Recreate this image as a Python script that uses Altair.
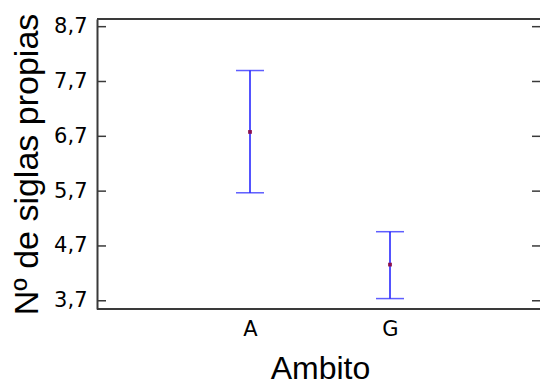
import altair as alt
import pandas as pd

ambito = ["A", "G"]
media = [6.78, 4.36]
inferior = [5.67, 3.74]
superior = [7.90, 4.96]
y_ticks = [3.7, 4.7, 5.7, 6.7, 7.7, 8.7]

df = pd.DataFrame({"Ambito": ambito, "media": media, "inf": inferior, "sup": superior})
tdf = pd.DataFrame({"t": y_ticks})

W, H = 443, 290
FONT = "Liberation Sans"
LFONT = "DejaVu Sans"
frame = "#3a3a3a"

xscale = alt.Scale(type="point", range=[153, 293], padding=0)
yscale = alt.Scale(domain=[3.55, 8.84], nice=False, zero=False)

xenc = alt.X("Ambito:N", scale=xscale, sort=ambito,
             axis=alt.Axis(title="Ambito", ticks=False, domain=False, labelAngle=0,
                           labelPadding=9, labelBaseline="top",
                           titleFontSize=32, titleBaseline="alphabetic", titleY=69,
                           titleX=W / 2 + 1.5, grid=False))

yaxis = alt.Axis(title="Nº de siglas propias", values=y_ticks, ticks=False, domain=True,
                 domainColor=frame, domainWidth=2, grid=False, labelPadding=10,
                 labelExpr="replace(format(datum.value, '.1f'), '.', ',')",
                 titleFontSize=34, titleBaseline="alphabetic", titleX=-60, titleY=145,
                 titleAngle=270)

base = alt.Chart(df)

rule = base.mark_rule(color="#1a1aff", strokeWidth=1.5).encode(
    x=xenc, y=alt.Y("inf:Q", scale=yscale, axis=yaxis), y2="sup:Q")
cap_hi = base.mark_tick(color="#1a1aff", size=28, thickness=1.5, orient="horizontal").encode(
    x="Ambito:N", y="sup:Q")
cap_lo = base.mark_tick(color="#1a1aff", size=28, thickness=1.5, orient="horizontal").encode(
    x="Ambito:N", y="inf:Q")
pt = base.mark_square(color="#8a1050", size=14, opacity=1).encode(
    x="Ambito:N", y="media:Q")

tick_l = alt.Chart(tdf).mark_rule(color=frame, strokeWidth=1.5).encode(
    y=alt.Y("t:Q", scale=yscale, axis=yaxis), x=alt.value(0), x2=alt.value(9))
tick_r = alt.Chart(tdf).mark_rule(color=frame, strokeWidth=1.5).encode(
    y=alt.Y("t:Q", scale=yscale), x=alt.value(W - 8), x2=alt.value(W))
top = alt.Chart(tdf).mark_rule(color=frame, strokeWidth=2).encode(
    y=alt.value(0), x=alt.value(0), x2=alt.value(W))
bottom = alt.Chart(tdf).mark_rule(color=frame, strokeWidth=2).encode(
    y=alt.value(H), x=alt.value(0), x2=alt.value(W))

chart = alt.layer(rule, cap_hi, cap_lo, pt, tick_l, tick_r, top, bottom).properties(
    width=W, height=H,
    autosize=alt.AutoSizeParams(type="none"),
    padding={"left": 97, "top": 19, "right": 0, "bottom": 76},
    background="white",
).configure_view(strokeWidth=0).configure_axis(
    labelFont=LFONT, labelFontSize=21, labelColor="black",
    titleFont=FONT, titleFontWeight="normal", titleColor="black",
)

chart.save("out.html", embed_options={"renderer": "svg", "actions": False})
